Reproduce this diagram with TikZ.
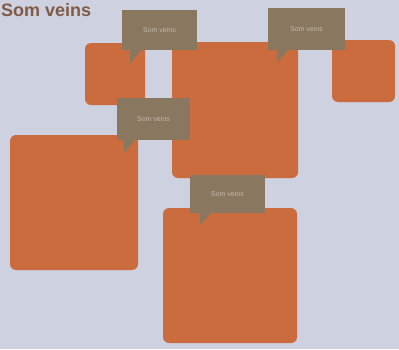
\documentclass[tikz,border=0pt]{standalone}
\usepackage{fontspec}
\setmainfont{Liberation Sans}
\definecolor{wall}{RGB}{206,209,224}
\definecolor{tilecol}{RGB}{203,108,62}
\definecolor{tagcol}{RGB}{137,119,96}
\definecolor{tagtext}{RGB}{196,186,170}
\definecolor{headcol}{RGB}{128,92,70}
\tikzset{
  tile/.style={fill=tilecol, rounded corners=6pt, inner sep=0pt},
  tag/.style={fill=tagcol, inner sep=0pt, text=tagtext, font=\fontsize{7}{8}\selectfont},
}
\begin{document}
\begin{tikzpicture}[x=1pt, y=-1pt]
\useasboundingbox[fill=wall] (0,0) rectangle (399,349);

\node[anchor=west, text=headcol, font=\bfseries\fontsize{18}{19}\selectfont, inner sep=0pt] at (1, 10) (title) {Som veins};

% tiles
\node[tile, minimum width=60pt, minimum height=62pt] at (115, 74) (a) {};
\node[tile, minimum width=126pt, minimum height=136pt] at (235, 110) (b) {};
\node[tile, minimum width=63pt, minimum height=62pt] at (363.5, 71) (c) {};
\node[tile, minimum width=128pt, minimum height=135pt] at (74, 202.5) (d) {};
\node[tile, minimum width=134pt, minimum height=135pt] at (230, 275.5) (e) {};

% tags
\node[tag, minimum width=75pt, minimum height=40pt] at (159.5, 30) (t1) {Som veins};
\fill[tagcol] (t1.south west) ++(8,0) -- ++(0,14) -- ++(11,-14) -- cycle;
\node[tag, minimum width=77pt, minimum height=42pt] at (306.5, 29) (t2) {Som veins};
\fill[tagcol] (t2.south west) ++(9,0) -- ++(0,13) -- ++(11,-13) -- cycle;
\node[tag, minimum width=73pt, minimum height=42pt] at (153.5, 119) (t3) {Som veins};
\fill[tagcol] (t3.south west) ++(7,0) -- ++(0,13) -- ++(11,-13) -- cycle;
\node[tag, minimum width=75pt, minimum height=38pt] at (227.5, 194) (t4) {Som veins};
\fill[tagcol] (t4.south west) ++(10,0) -- ++(0,12) -- ++(11,-12) -- cycle;
\end{tikzpicture}
\end{document}
